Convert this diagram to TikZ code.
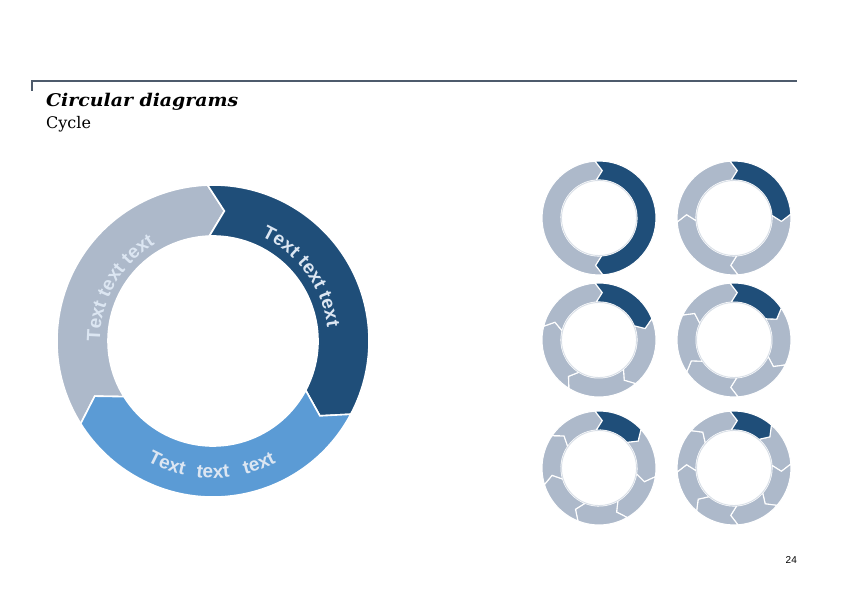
\documentclass[tikz,border=0pt]{standalone}
\usepackage{fontspec}
\setmainfont{DejaVu Serif}
\newfontfamily\titlefont[FakeStretch=1.08]{DejaVu Serif}
\newfontfamily\segfont{Liberation Sans Bold}
\newfontfamily\pgfont{Liberation Sans}
\usetikzlibrary{decorations.text,calc}
\definecolor{cgray}{HTML}{ADB9CA}
\definecolor{cdark}{HTML}{1F4E79}
\definecolor{clight}{HTML}{5B9BD5}
\definecolor{ctxt}{HTML}{DCE6F2}
\definecolor{cline}{HTML}{4E5B6C}
\definecolor{cinner}{HTML}{D9DFE7}
\newcommand{\cycseg}[7]{%
 \path[#7] ([shift={(#1)}]#4:#3) arc[start angle=#4, end angle=#5, radius=#3]
 -- ([shift={(#1)}]{#5-#6}:{(#2+#3)/2})
 -- ([shift={(#1)}]#5:#2) arc[start angle=#5, end angle=#4, radius=#2]
 -- ([shift={(#1)}]{#4-#6}:{(#2+#3)/2}) -- cycle;}
\tikzset{
  segbig/.style={draw=white, line width=1.6},
  segsmall/.style={draw=white, line width=1.1},
  segtext/.style={decorate, decoration={text along path, text align=center,
     text={|\segfont\fontsize{19}{19}\selectfont\color{ctxt}|#1}}}
}
\begin{document}
\begin{tikzpicture}[x=1pt,y=1pt]
\useasboundingbox (0,0) rectangle (842,595);
% header
\coordinate (hk) at (32,504);
\coordinate (hl) at (32,514);
\coordinate (hr) at (797,514);
\draw[cline, line width=1.6] (hk) -- (hl) -- (hr);
\node[anchor=base west, inner sep=0, font=\titlefont\bfseries\itshape\fontsize{17.5}{20}\selectfont] (title) at (46,488) {Circular diagrams};
\node[anchor=base west, inner sep=0, font=\fontsize{16}{19}\selectfont] (sub) at (46,466) {Cycle};
\node[anchor=base east, inner sep=0, font=\pgfont\fontsize{10}{12}\selectfont] (pg) at (797,32) {24};
% big cycle
\coordinate (big) at (213,254);
\cycseg{big}{105}{156}{212}{92}{7}{fill=cgray, segbig}
\cycseg{big}{105}{156}{92}{-28}{7}{fill=cdark, segbig}
\cycseg{big}{105}{156}{-28}{-148}{7}{fill=clight, segbig}
\path[segtext={Text text text}] ([shift={(big)}]186:113) arc[start angle=186, end angle=115, radius=113];
\path[segtext={Text text text}] ([shift={(big)}]72:115) arc[start angle=72, end angle=0, radius=115];
\path[segtext={Text}] ([shift={(big)}]239.5:137) arc[start angle=239.5, end angle=259.5, radius=137];
\path[segtext={text}] ([shift={(big)}]260:137) arc[start angle=260, end angle=280, radius=137];
\path[segtext={text}] ([shift={(big)}]280.5:137) arc[start angle=280.5, end angle=300.5, radius=137];
% small cycles
\coordinate (s1) at (599,377);
\coordinate (s2) at (734,377);
\coordinate (s3) at (599,255);
\coordinate (s4) at (734,255);
\coordinate (s5) at (599,127);
\coordinate (s6) at (734,127);
\foreach \c/\n in {s1/2, s2/4, s3/5, s4/6, s5/7, s6/8} {
  \foreach \k in {2,...,\n} {
    \pgfmathsetmacro\sa{94-(\k-1)*360/\n}
    \pgfmathsetmacro\sb{94-\k*360/\n}
    \cycseg{\c}{38}{57}{\sa}{\sb}{8}{fill=cgray, segsmall}
  }
  \pgfmathsetmacro\sb{94-360/\n}
  \cycseg{\c}{38}{57}{94}{\sb}{8}{fill=cdark, segsmall}
  \draw[cinner, line width=0.9] (\c) circle[radius=37.5];
}
\end{tikzpicture}
\end{document}
